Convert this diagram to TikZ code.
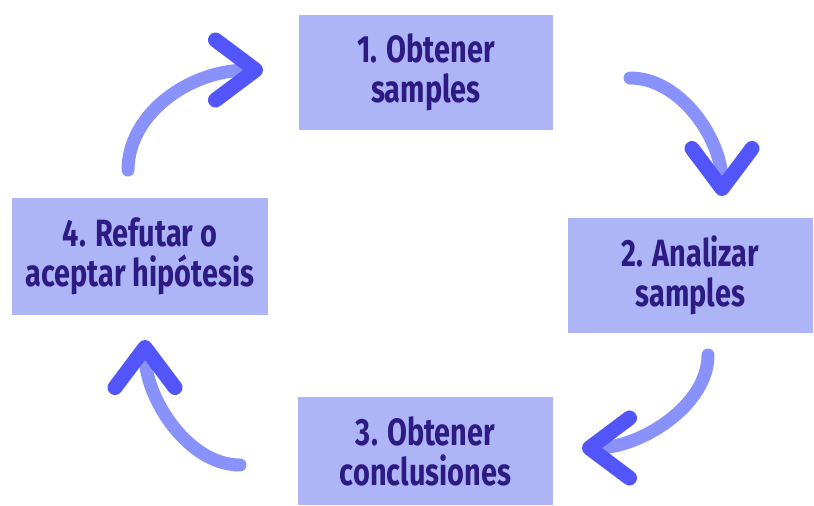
\documentclass[tikz,border=0pt]{standalone}
\usepackage{fontspec}
\newfontfamily\stepfont{Fira Sans}[FakeStretch=0.76]
\usetikzlibrary{arrows.meta}
\definecolor{boxfill}{RGB}{173,181,247}
\definecolor{boxtext}{RGB}{45,26,130}
\definecolor{arcline}{RGB}{136,146,250}
\definecolor{archead}{RGB}{82,86,250}
\tikzset{
  stepbox/.style={rectangle, fill=boxfill, text=boxtext, align=center, inner sep=0pt,
    font=\stepfont\bfseries\fontsize{38}{40}\selectfont},
  cyc/.style={draw=arcline, line width=13pt,
    -{Straight Barb[round, color=archead, line width=15pt, length=40pt, width=60pt]}},
  every picture/.style={line cap=round, line join=round}
}

\begin{document}
\begin{tikzpicture}[x=1pt, y=-1pt]
    \useasboundingbox (0,0) rectangle (814,506);

    \node[stepbox, minimum width=254pt, minimum height=115pt] (S1) at (426,72.5) {1. Obtener\\samples};
    \node[stepbox, minimum width=245pt, minimum height=115pt] (S2) at (690.5,275.5) {2. Analizar\\samples};
    \node[stepbox, minimum width=255pt, minimum height=108pt] (S3) at (425.5,451) {3. Obtener\\conclusiones};
    \node[stepbox, minimum width=256pt, minimum height=117pt] (S4) at (140,256.5) {4. Refutar o\\aceptar hipótesis};

    \coordinate (a1s) at (128,170);
    \coordinate (a1e) at (263,70);
    \coordinate (a2s) at (630,78);
    \coordinate (a2e) at (722,196);
    \coordinate (a3s) at (708,355);
    \coordinate (a3e) at (582,448);
    \coordinate (a4s) at (240,465);
    \coordinate (a4e) at (145,340);

    \draw[cyc] (a1s) .. controls (128,115) and (188,70) .. (a1e);
    \draw[cyc] (a2s) .. controls (681,78) and (722,140) .. (a2e);
    \draw[cyc] (a3s) .. controls (708,406) and (640,448) .. (a3e);
    \draw[cyc] (a4s) .. controls (188,465) and (145,398) .. (a4e);
\end{tikzpicture}
\end{document}
